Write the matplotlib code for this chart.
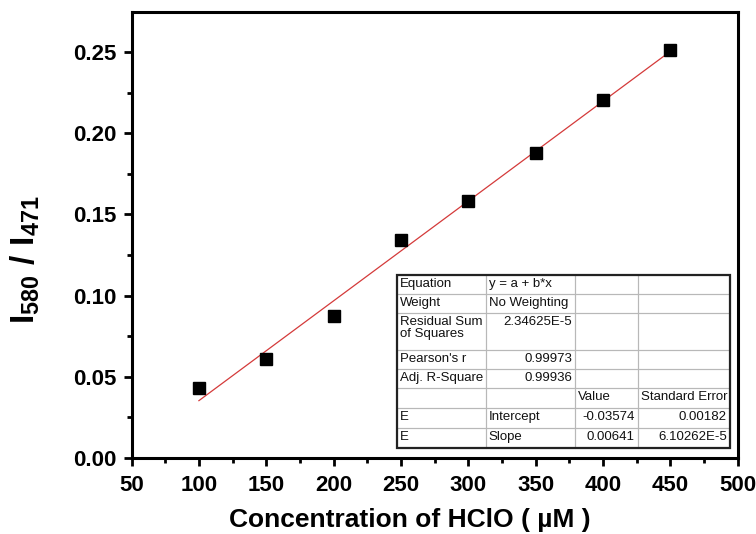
import matplotlib
matplotlib.use("Agg")
import matplotlib.pyplot as plt
import numpy as np
from matplotlib.patches import Rectangle
from matplotlib.ticker import MultipleLocator

# data
conc = [100, 150, 200, 250, 300, 350, 400, 450]
ratio = [0.043, 0.061, 0.0875, 0.134, 0.158, 0.188, 0.2205, 0.2515]

x_ticks = [50, 100, 150, 200, 250, 300, 350, 400, 450, 500]
y_ticks = [0.00, 0.05, 0.10, 0.15, 0.20, 0.25]

# fit report table, row by row
table_rows = [
    ["Equation", "y = a + b*x", "", ""],
    ["Weight", "No Weighting", "", ""],
    ["Residual Sum\nof Squares", "2.34625E-5", "", ""],
    ["Pearson's r", "0.99973", "", ""],
    ["Adj. R-Square", "0.99936", "", ""],
    ["", "", "Value", "Standard Error"],
    ["E", "Intercept", "-0.03574", "0.00182"],
    ["E", "Slope", "0.00641", "6.10262E-5"],
]
right_aligned = {(2, 1), (3, 1), (4, 1), (6, 2), (6, 3), (7, 2), (7, 3)}

plt.rcParams["font.family"] = ["Liberation Sans", "DejaVu Sans"]
plt.rcParams["mathtext.fontset"] = "custom"
plt.rcParams["mathtext.rm"] = "Liberation Sans:bold"
plt.rcParams["mathtext.bf"] = "Liberation Sans:bold"
plt.rcParams["mathtext.it"] = "Liberation Sans:bold"

fig = plt.figure(figsize=(7.56, 5.34), dpi=100)
ax = fig.add_axes([0.174, 0.1423, 0.802, 0.8352])

# linear fit through the points
b, a = np.polyfit(conc, ratio, 1)
xfit = np.array([min(conc), max(conc)])
ax.plot(xfit, a + b * xfit, color="#d43a3a", lw=0.9, zorder=2)
ax.plot(conc, ratio, "s", color="black", ms=8, zorder=3)

ax.set_xlim(50, 500)
ax.set_ylim(0, 0.2747)
ax.set_xticks(x_ticks)
ax.set_yticks(y_ticks)
ax.set_yticklabels([f"{v:.2f}" for v in y_ticks])
ax.xaxis.set_minor_locator(MultipleLocator(25))
ax.yaxis.set_minor_locator(MultipleLocator(0.025))
ax.tick_params(which="both", direction="out", top=False, right=False, width=2)
ax.tick_params(which="major", length=6, labelsize=16, pad=5)
ax.tick_params(axis="x", which="major", pad=6)
ax.tick_params(which="minor", length=3.5)
for lab in ax.get_xticklabels() + ax.get_yticklabels():
    lab.set_fontweight("bold")
for sp in ax.spines.values():
    sp.set_linewidth(2.2)

ax.set_xlabel("Concentration of HClO ( µM )", fontsize=19, fontweight="bold")
ax.xaxis.set_label_coords(0.459, -0.113)
ax.set_ylabel(r"$\mathbf{I_{580}\ /\ I_{471}}$", fontsize=24)
ax.yaxis.set_label_coords(-0.147, 0.444)

# table, laid out in pixel sizes of the axes box (606 x 446 px)
ax_w, ax_h = 606.4, 446.0
row_h = [19, 19, 37, 19, 19, 20, 20, 20]
col_w = [89, 89, 63, 92]
x0, y_top = 0.4377, 0.4103
tr = ax.transAxes
total_w = sum(col_w) / ax_w
total_h = sum(row_h) / ax_h
ax.add_patch(Rectangle((x0, y_top - total_h), total_w, total_h, transform=tr,
                       facecolor="white", edgecolor="none", zorder=4))
y = y_top
for r, row in enumerate(table_rows):
    h = row_h[r] / ax_h
    x = x0
    for c, txt in enumerate(row):
        w = col_w[c] / ax_w
        ax.add_patch(Rectangle((x, y - h), w, h, transform=tr, facecolor="none",
                               edgecolor="#b8b8b8", lw=0.8, zorder=5))
        if txt:
            if (r, c) in right_aligned:
                tx, ha = x + w - 3 / ax_w, "right"
            else:
                tx, ha = x + 3 / ax_w, "left"
            ax.text(tx, y - 2.5 / ax_h, txt, transform=tr, ha=ha, va="top",
                    fontsize=9.5, linespacing=1.05, color="#111111", zorder=6)
        x += w
    y -= h
ax.add_patch(Rectangle((x0, y_top - total_h), total_w, total_h, transform=tr,
                       facecolor="none", edgecolor="#222222", lw=1.6, zorder=7))

fig.savefig("out.png", dpi=100)
